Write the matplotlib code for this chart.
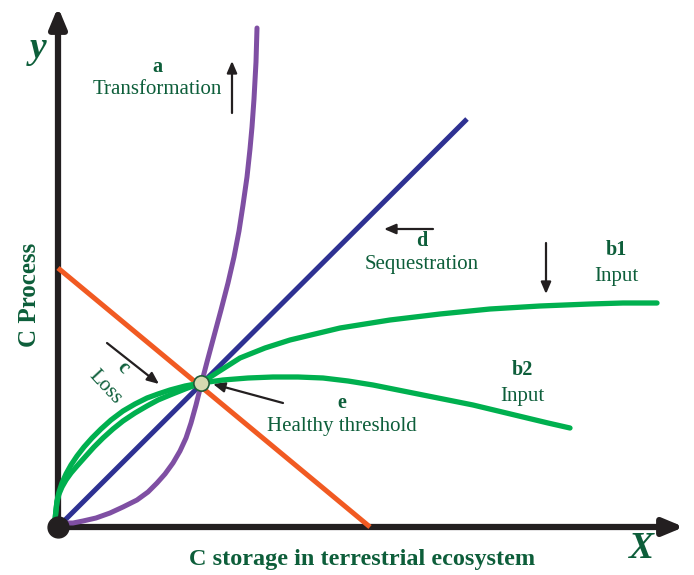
import numpy as np
import matplotlib.pyplot as plt

# Coordenadas (origen en la esquina de los ejes)
blue_x = [4, 409]
blue_y = [4, 408]

orange_x = [0, 312]
orange_y = [259, 0]

purple_x = [5, 15, 25, 38, 52, 65, 79, 90, 99, 107, 115, 122, 128, 133, 138, 143,
            149, 156, 163, 170, 176, 181, 185, 189, 192, 194, 196, 198, 199]
purple_y = [4, 4, 6, 9, 14, 20, 27, 35, 44, 53, 64, 76, 89, 104, 122, 142,
            165, 191, 217, 244, 270, 296, 322, 350, 378, 400, 428, 465, 499]

b1_x = [-3, -2, -1, 1, 4, 8, 13, 19, 27, 36, 45, 55, 65, 77, 89, 100, 112, 127, 143,
        160, 182, 207, 232, 257, 282, 332, 382, 432, 482, 532, 565, 599]
b1_y = [7, 17, 25, 33, 40, 47, 54, 61, 70, 80, 89, 98, 106, 114, 121, 127, 132, 138, 144,
        155, 169, 179, 187, 193, 199, 207, 213, 218, 221, 223, 224, 224]

b2_x = [-3, -2, -1, 1, 4, 8, 13, 19, 26, 34, 43, 53, 65, 77, 89, 100, 112, 127, 143,
        165, 190, 215, 240, 265, 290, 315, 340, 365, 390, 415, 440, 465, 490, 512]
b2_y = [7, 17, 26, 35, 44, 53, 62, 71, 80, 89, 98, 107, 116, 123, 129, 133, 137, 141, 144,
        147, 149, 150, 150, 149, 146, 142, 137, 132, 127, 122, 116, 110, 104, 99]

umbral = (143, 144)

texto = '#0d5e3a'
serif = ['Liberation Serif', 'DejaVu Serif']

fig = plt.figure(figsize=(6.94, 5.75), dpi=100)
ax = fig.add_axes([0, 0, 1, 1])
ax.set_xlim(-58, 636)
ax.set_ylim(-48, 527)
ax.axis('off')

# Ejes con flecha
ax.annotate('', xy=(0, 520), xytext=(0, -1),
            arrowprops=dict(arrowstyle='-|>,head_length=1.2,head_width=0.5',
                            lw=4.5, color='#231f20', shrinkA=0, shrinkB=0))
ax.annotate('', xy=(626, 0), xytext=(-1, 0),
            arrowprops=dict(arrowstyle='-|>,head_length=1.2,head_width=0.5',
                            lw=4.5, color='#231f20', shrinkA=0, shrinkB=0))

ax.plot(orange_x, orange_y, color='#f15a22', lw=3.6, solid_capstyle='butt', zorder=3)
ax.plot(blue_x, blue_y, color='#2e3192', lw=3.6, solid_capstyle='butt', zorder=3)
ax.plot(purple_x, purple_y, color='#7f4fa3', lw=3.6, solid_capstyle='round',
        solid_joinstyle='round', zorder=4)
ax.plot(b1_x, b1_y, color='#00b04f', lw=3.8, solid_capstyle='round',
        solid_joinstyle='round', zorder=5)
ax.plot(b2_x, b2_y, color='#00b04f', lw=3.8, solid_capstyle='round',
        solid_joinstyle='round', zorder=5)

ax.plot([0], [0], 'o', color='#231f20', ms=15, zorder=6)
ax.plot([umbral[0]], [umbral[1]], 'o', ms=11, mfc='#d5d9b1', mec='#1e5e3a',
        mew=1.2, zorder=7)

# Flechas de las etiquetas
flecha = dict(arrowstyle='-|>,head_length=0.7,head_width=0.3', lw=1.6,
              color='#231f20', shrinkA=0, shrinkB=0)
ax.annotate('', xy=(174, 466), xytext=(174, 414), arrowprops=flecha)
ax.annotate('', xy=(326, 298), xytext=(375, 298), arrowprops=flecha)
ax.annotate('', xy=(488, 233), xytext=(488, 284), arrowprops=flecha)
ax.annotate('', xy=(155, 143), xytext=(225, 124), arrowprops=flecha)
ax.annotate('', xy=(101, 143), xytext=(49, 184), arrowprops=flecha)

# Textos
def etiqueta(x, y, letra, nombre, dy=25):
    ax.text(x, y, letra, ha='center', va='center', color=texto, family=serif,
            fontsize=14.5, fontweight='bold')
    ax.text(x, y - dy, nombre, ha='center', va='center', color=texto,
            family=serif, fontsize=15)

etiqueta(99, 460, 'a', 'Transformation', dy=23)
etiqueta(364, 286, 'd', 'Sequestration', dy=24)
etiqueta(558, 277, 'b1', 'Input', dy=26)
etiqueta(464, 157, 'b2', 'Input', dy=26)
etiqueta(284, 124, 'e', 'Healthy threshold', dy=24)

ax.text(65, 159, 'c', ha='center', va='center', color=texto, family=serif,
        fontsize=14.5, fontweight='bold', rotation=-45)
ax.text(47, 140, 'Loss', ha='center', va='center', color=texto, family=serif,
        fontsize=15, rotation=-47)

ax.text(-20, 479, 'y', ha='center', va='center', color=texto, family=serif,
        fontsize=27, fontweight='bold', style='italic')
ax.text(583, -21, 'X', ha='center', va='center', color=texto, family=serif,
        fontsize=27, fontweight='bold', style='italic')
ax.text(-29, 232, 'C Process', ha='center', va='center', color=texto,
        family=serif, fontsize=18, fontweight='bold', rotation=90)
ax.text(304, -33, 'C storage in terrestrial ecosystem', ha='center', va='center',
        color=texto, family=serif, fontsize=17.5, fontweight='bold')

plt.savefig('out.png', dpi=100)
